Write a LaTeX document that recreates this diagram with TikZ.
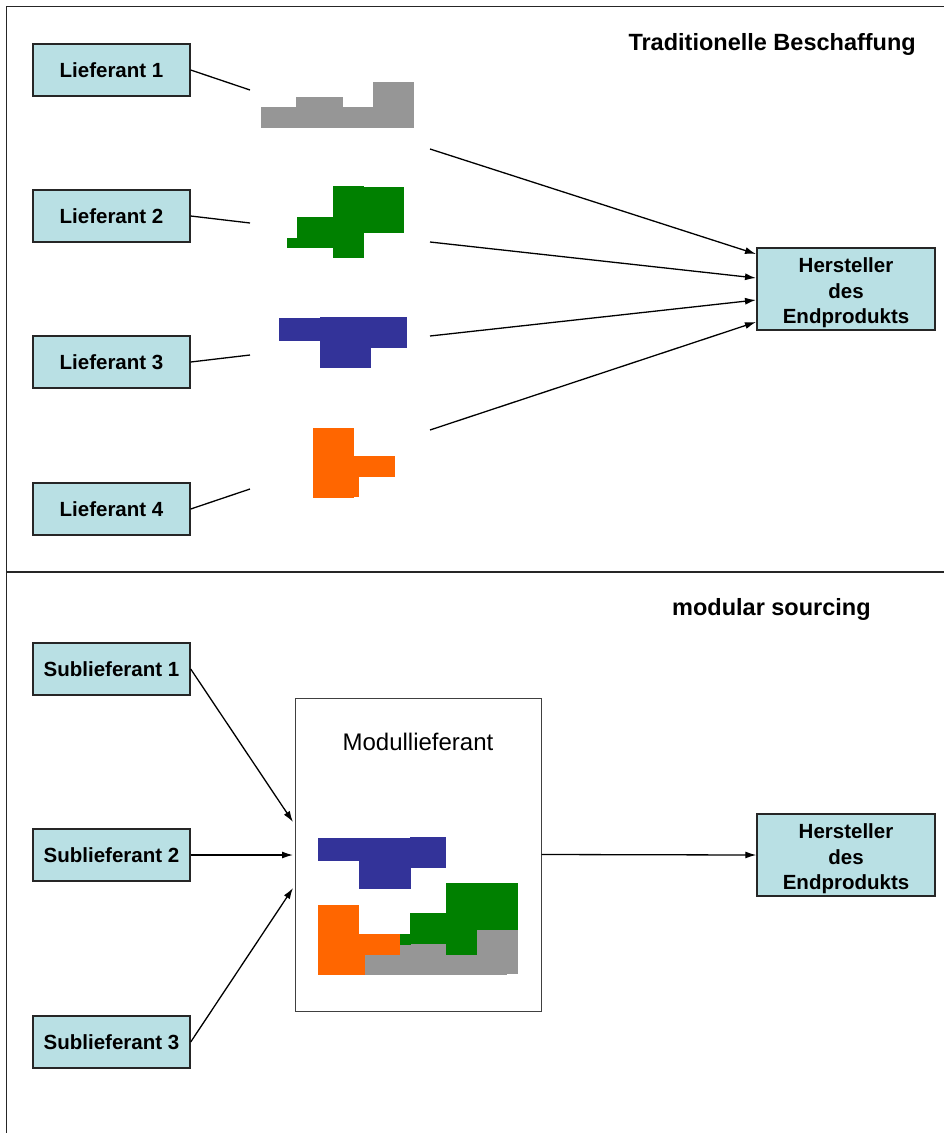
\documentclass[tikz,border=0pt]{standalone}
\usepackage{fontspec}
\setmainfont{Liberation Sans}
\usetikzlibrary{arrows.meta}
\definecolor{boxfill}{RGB}{185,224,228}
\definecolor{partgray}{RGB}{150,150,150}
\definecolor{partgreen}{RGB}{0,128,0}
\definecolor{partblue}{RGB}{51,51,153}
\definecolor{partorange}{RGB}{255,102,0}
\begin{document}
\begin{tikzpicture}[x=1pt,y=-1pt,
  supplier/.style={draw=black!85,line width=1.4pt,fill=boxfill,
    minimum width=157pt,minimum height=52pt,inner sep=0pt,
    font=\fontsize{20.5}{25.5}\selectfont\bfseries},
  maker/.style={draw=black!85,line width=1.4pt,fill=boxfill,
    minimum width=178pt,minimum height=82pt,inner sep=0pt,align=center,
    font=\fontsize{20.5}{25.5}\selectfont\bfseries},
  heading/.style={font=\fontsize{23.5}{28}\selectfont\bfseries,inner sep=0pt},
  link/.style={line width=1.3pt,black},
  feed/.style={link,-{Latex[length=11pt,width=7pt]}},
  frame/.style={line width=1.6pt,black!85},
]
\useasboundingbox (0,0) rectangle (944,1133);

% outer frame and section divider
\draw[frame] (944,6.5) -- (6.5,6.5) -- (6.5,1133);
\draw[frame] (6.5,572) -- (944,572);

% ---------------- traditional sourcing ----------------
\node[heading,anchor=east] (t1) at (916,44) {Traditionelle Beschaffung};

\node[supplier] (L1) at (111.5,70)  {Lieferant 1};
\node[supplier] (L2) at (111.5,216) {Lieferant 2};
\node[supplier] (L3) at (111.5,362) {Lieferant 3};
\node[supplier] (L4) at (111.5,509) {Lieferant 4};
\node[maker] (H1) at (846,289) {\rule{0pt}{23pt}Hersteller\\des\\Endprodukts};

% parts delivered by each supplier
\fill[partgray] (261,106.5) rectangle (414,128);
\fill[partgray] (296,97) rectangle (343,107);
\fill[partgray] (373,82) rectangle (414,107);

\fill[partgreen] (333,186) rectangle (364,258);
\fill[partgreen] (363.5,187) rectangle (404,233);
\fill[partgreen] (297,217) rectangle (333.5,248);
\fill[partgreen] (287,238) rectangle (297.5,248);

\fill[partblue] (279,318) rectangle (320.5,341);
\fill[partblue] (320,317) rectangle (407,348);
\fill[partblue] (320,347.5) rectangle (371,368);

\fill[partorange] (313,428) rectangle (354,498);
\fill[partorange] (353.5,456) rectangle (395,477);
\fill[partorange] (353.5,476.5) rectangle (359,497);

% supplier to part
\coordinate (p1) at (250,90);
\coordinate (p2) at (250,223);
\coordinate (p3) at (250,355);
\coordinate (p4) at (250,489);
\draw[link] (L1.east) -- (p1);
\draw[link] (L2.east) -- (p2);
\draw[link] (L3.east) -- (p3);
\draw[link] (L4.east) -- (p4);

% part to manufacturer
\coordinate (q1) at (430,149);
\coordinate (q2) at (430,242);
\coordinate (q3) at (430,336);
\coordinate (q4) at (430,430);
\coordinate (h1) at (756,254);
\coordinate (h2) at (756,278);
\coordinate (h3) at (756,300);
\coordinate (h4) at (756,322);
\draw[feed] (q1) -- (h1);
\draw[feed] (q2) -- (h2);
\draw[feed] (q3) -- (h3);
\draw[feed] (q4) -- (h4);

% ---------------- modular sourcing ----------------
\node[heading,anchor=west] (t2) at (672,609) {modular sourcing};

\node[supplier] (S1) at (111.5,669)  {Sublieferant 1};
\node[supplier] (S2) at (111.5,855)  {Sublieferant 2};
\node[supplier] (S3) at (111.5,1042) {Sublieferant 3};
\node[maker] (H2) at (846,855) {\rule{0pt}{23pt}Hersteller\\des\\Endprodukts};

\node[draw=black!75,line width=1pt,fill=white,minimum width=246pt,
  minimum height=313pt,inner sep=0pt] (M) at (418,854.5) {};
\node[font=\fontsize{24}{28}\selectfont,inner sep=0pt] (Mt) at (418,742) {Modullieferant};

% assembled module
\fill[partgray] (365,955) rectangle (507,975);
\fill[partgray] (400,945) rectangle (446,956);
\fill[partgray] (411,944) rectangle (446,956);
\fill[partgray] (477,929) rectangle (518,974);

\fill[partgreen] (446,883) rectangle (518,929.5);
\fill[partgreen] (446,883) rectangle (477,955);
\fill[partgreen] (410,913) rectangle (446.5,944);
\fill[partgreen] (400,934) rectangle (410.5,945);

\fill[partorange] (318,905) rectangle (359,975);
\fill[partorange] (358.5,934) rectangle (400,955);
\fill[partorange] (358.5,954.5) rectangle (365,975);

\fill[partblue] (318,838) rectangle (410.5,861);
\fill[partblue] (410,837) rectangle (446,868);
\fill[partblue] (359,860.5) rectangle (410.5,889);

% sub-suppliers into the module, module to manufacturer
\coordinate (m1) at (293,822);
\coordinate (m2) at (293,855);
\coordinate (m3) at (293,888);
\draw[feed] (S1.east) -- (m1);
\draw[feed] (S2.east) -- (m2);
\draw[feed] (S3.east) -- (m3);
\draw[feed] (M.east) -- (H2.west);
\end{tikzpicture}
\end{document}
